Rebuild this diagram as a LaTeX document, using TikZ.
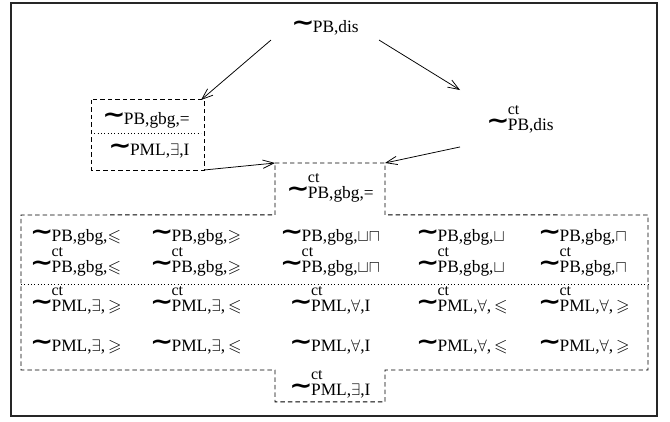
\documentclass[tikz,border=0pt]{standalone}
\usepackage{fontspec}
\usepackage{amsmath,amssymb}
\usepackage{graphicx}
\setmainfont{Liberation Serif}
\newfontfamily\wavefont{DejaVu Sans}
\usetikzlibrary{arrows.meta,positioning,calc}
% bold wave in front of every relation, with an optional "ct" on top
\newcommand{\wig}{\raisebox{1.2pt}{\scalebox{1.6}[1.35]{\wavefont\bfseries ∼}}}
\newcommand{\ctsz}{\fontsize{11.5}{12}\selectfont}
\newcommand{\rel}[1]{\wig\kern-1.2pt#1}
\newcommand{\relc}[1]{\wig\kern-1.2pt\rlap{\raisebox{11.2pt}{\ctsz ct}}#1}

\begin{document}
\begin{tikzpicture}[x=0.72pt,y=-0.72pt,
    every node/.style={font=\fontsize{12.5}{14}\selectfont, inner sep=0pt, outer sep=0pt},
    arr/.style={-{Straight Barb[length=8pt,width=6pt]}, line width=0.55pt},
    dashbox/.style={draw, line width=0.7pt, dash pattern=on 3.2pt off 2.2pt},
    cell/.style={anchor=base west}]
    \useasboundingbox (0,0) rectangle (670,421);
    \draw[line width=0.8pt, black!85] (11,3) rectangle (657,416);

    % --- upper part ---
    \node (top) [anchor=base, minimum width=77.8pt, text height=11.5pt, text depth=5.8pt] at (325,32) {\rel{PB,dis}};
    \node (rgt) [anchor=base, minimum width=86.4pt, text height=28.8pt, text depth=12.2pt] at (520,130) {\relc{PB,dis}};
    \node (lbtop) [anchor=base, minimum width=79.2pt, text height=17.3pt, text depth=6.5pt] at (146,124) {\rel{PB,gbg,=}};
    \node (lbbot) [anchor=base, minimum width=79.2pt, text height=15.8pt, text depth=10.8pt] at (149,155) {\rel{PML,$\exists$,I}};
    \draw[dashbox] (lbtop.north west) rectangle (lbbot.south east);
    \draw[dotted] (lbtop.south west) -- (lbtop.south east);

    \node (ctr) [anchor=base, minimum width=79.2pt, text height=25.2pt, text depth=12.2pt] at (330,198) {\relc{PB,gbg,=}};
    \node (btm) [anchor=base, minimum width=79.2pt, text height=18pt, text depth=5pt] at (330,395) {\relc{PML,$\exists$,I}};

    \draw[arr] (top.south west) -- (lbtop.north east);
    \draw[arr] (top.south east) -- (rgt.north west);
    \draw[arr] (lbbot.south east) -- (ctr.north west);
    \draw[arr] (rgt.south west) -- (ctr.north east);

    % --- lower block ---
    \draw[dashbox] (ctr.north west) -- (ctr.north east) -- (ctr.south east) -- (648,215)
        -- (648,370) -- (btm.north east) -- (btm.south east) -- (btm.south west)
        -- (btm.north west) -- (21,370) -- (21,215) -- (ctr.south west) -- cycle;
    \draw[dotted] (21,284) -- (648,284);

    \foreach \x/\a/\s [count=\i] in {30/base west/{$\leqslant$}, 150/base west/{$\geqslant$},
            330/base/{$\sqcup\sqcap$}, 416/base west/{$\sqcup$}, 538/base west/{$\sqcap$}} {
        \node (pa\i) [anchor=\a] at (\x,241) {\rel{PB,gbg,\s}};
        \node (pb\i) [anchor=\a] at (\x,272) {\relc{PB,gbg,\s}};
    }
    \foreach \x/\a/\s [count=\i] in {30/base west/{$\exists$,\,$\geqslant$}, 150/base west/{$\exists$,\,$\leqslant$},
            330/base/{$\forall$,I}, 416/base west/{$\forall$,\,$\leqslant$}, 538/base west/{$\forall$,\,$\geqslant$}} {
        \node (ma\i) [anchor=\a] at (\x,311) {\relc{PML,\s}};
        \node (mb\i) [anchor=\a] at (\x,351) {\rel{PML,\s}};
    }
\end{tikzpicture}
\end{document}
